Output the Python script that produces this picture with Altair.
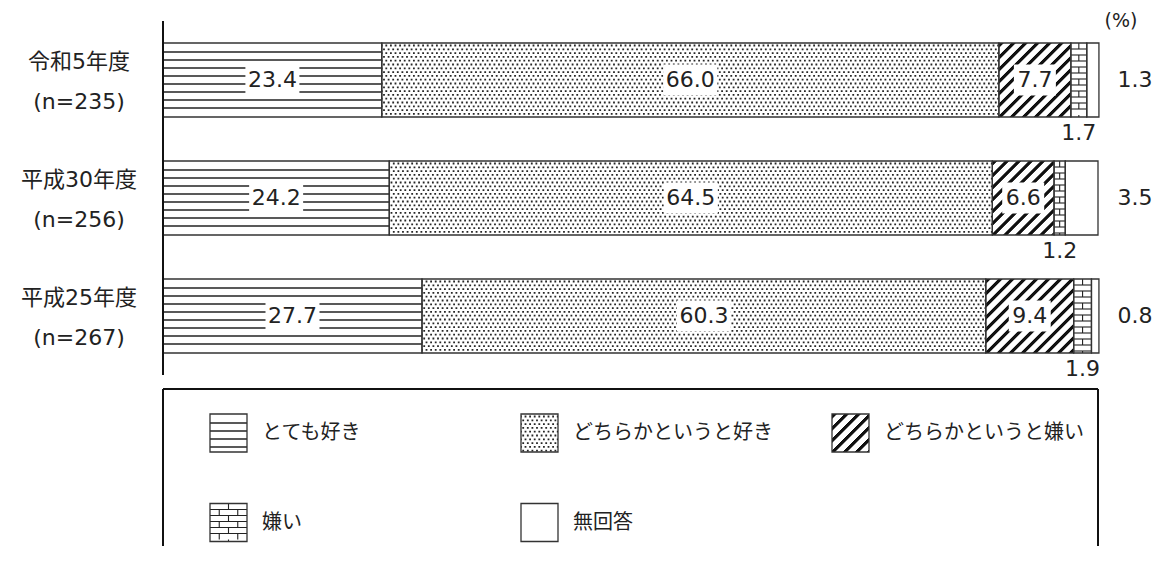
import altair as alt
import pandas as pd

# ---------------- data ----------------
years = ["令和5年度", "平成30年度", "平成25年度"]
sample_sizes = ["(n=235)", "(n=256)", "(n=267)"]
categories = ["とても好き", "どちらかというと好き", "どちらかというと嫌い", "嫌い", "無回答"]
values_r5 = [23.4, 66.0, 7.7, 1.7, 1.3]
values_h30 = [24.2, 64.5, 6.6, 1.2, 3.5]
values_h25 = [27.7, 60.3, 9.4, 1.9, 0.8]
series = [values_r5, values_h30, values_h25]
patterns = ["hlines", "dots", "diag", "brick", "blank"]
unit_label = "(%)"

# ---------------- layout ----------------
W, H = 935, 525
PXX = W / 100.0          # pixels per percent
PXY = 118.0              # pixels per row
Y0 = -0.5
Y1 = Y0 + H / PXY
BAR_HALF = 37.0 / PXY
NUM_FONT = "DejaVu Sans, Noto Sans CJK JP"
JP_FONT = "Noto Sans CJK JP"

xs = alt.Scale(domain=[0, 100], nice=False, zero=False)
ys = alt.Scale(domain=[Y0, Y1], nice=False, zero=False, reverse=True)

# ---------------- rectangles (bars + legend swatches) ----------------
rects = []
for r, vals in enumerate(series):
    cum = 0.0
    for i, v in enumerate(vals):
        rects.append(dict(x=cum, x2=cum + v, y=r - BAR_HALF, y2=r + BAR_HALF,
                          pat=patterns[i], row=r, idx=i, val=v))
        cum += v
bars_df = pd.DataFrame(rects)

LEG_TOP = 2.5 + 14 / PXY
leg_rects, leg_text = [], []
for i, cat in enumerate(categories):
    col, rr = i % 3, i // 3
    left = (47 + col * 311) / PXX
    yc = LEG_TOP + (44 + rr * 89.5) / PXY
    leg_rects.append(dict(x=left, x2=left + 37 / PXX, y=yc - 19 / PXY, y2=yc + 19 / PXY,
                          pat=patterns[i]))
    leg_text.append(dict(x=left + 52 / PXX, y=yc, label=cat))
leg_df = pd.DataFrame(leg_rects)
all_rects = pd.concat([bars_df[["x", "x2", "y", "y2", "pat"]], leg_df], ignore_index=True)

# ---------------- pattern generation ----------------
hl, dots, diag, bh, bv = [], [], [], [], []
for _, r in all_rects.iterrows():
    x0, x1, yt, yb, p = r.x, r.x2, r.y, r.y2, r.pat
    hpx = (yb - yt) * PXY
    wpx = (x1 - x0) * PXX
    if p == "hlines":
        off = 9.0
        while off < hpx - 3:
            hl.append(dict(x=x0, x2=x1, y=yt + off / PXY, off=0))
            off += 8.0
    elif p == "dots":
        off, k = 2.5, 0
        while off < hpx - 1:
            dots.append(dict(x=x0, x2=x1, y=yt + off / PXY, off=(k % 2) * 2.3 + 1))
            off += 3.8
            k += 1
    elif p == "diag":
        off, k = 0.5, 0
        while off < hpx:
            diag.append(dict(x=x0, x2=x1, y=yt + off / PXY, off=k % 12))
            off += 1.0
            k += 1
    elif p == "brick":
        off = 6.0
        while off < hpx - 2:
            bh.append(dict(x=x0, x2=x1, y=yt + off / PXY, off=0))
            off += 6.0
        bv.append(dict(x=(x0 + x1) / 2, y=yt, y2=yb, off=0))
        if wpx >= 30:
            bv.append(dict(x=x0 + (x1 - x0) / 4, y=yt, y2=yb, off=6))
            bv.append(dict(x=x0 + 3 * (x1 - x0) / 4, y=yt, y2=yb, off=6))


def hrules(rows, width, color, dash=None):
    kw = dict(strokeWidth=width, color=color, strokeCap="butt",
              strokeDashOffset={"expr": "datum.off"})
    if dash is not None:
        kw["strokeDash"] = dash
    return alt.Chart(pd.DataFrame(rows)).mark_rule(**kw).encode(
        x=alt.X("x:Q", scale=xs, axis=None), x2="x2:Q",
        y=alt.Y("y:Q", scale=ys, axis=None))


base_fill = alt.Chart(all_rects).mark_rect(fill="white", strokeWidth=0).encode(
    x=alt.X("x:Q", scale=xs, axis=None), x2="x2:Q",
    y=alt.Y("y:Q", scale=ys, axis=None), y2="y2:Q")

hl_layer = hrules(hl, 1.5, "#222222")
dots_layer = hrules(dots, 1.8, "#262626", [1.8, 2.8])
diag_layer = hrules(diag, 1.15, "#111111", [4.5, 7.5])
bh_layer = hrules(bh, 1.1, "#222222")
bv_layer = alt.Chart(pd.DataFrame(bv)).mark_rule(
    strokeWidth=1.1, color="#222222", strokeCap="butt", strokeDash=[6, 6],
    strokeDashOffset={"expr": "datum.off"}).encode(
    x=alt.X("x:Q", scale=xs, axis=None),
    y=alt.Y("y:Q", scale=ys, axis=None), y2="y2:Q")

outline = alt.Chart(all_rects).mark_rect(fillOpacity=0, stroke="#333333", strokeWidth=1.3).encode(
    x=alt.X("x:Q", scale=xs, axis=None), x2="x2:Q",
    y=alt.Y("y:Q", scale=ys, axis=None), y2="y2:Q")

# ---------------- labels ----------------
inner, below, right = [], [], []
for _, r in bars_df.iterrows():
    txt = f"{r.val:.1f}"
    cx = (r.x + r.x2) / 2
    if r.idx <= 2:
        hw = (12 * len(txt) + 6) / 2 / PXX
        inner.append(dict(x=cx, bx=cx - hw, bx2=cx + hw, y=float(r.row),
                          by=r.row - 15.5 / PXY, by2=r.row + 15.5 / PXY, label=txt))
    elif r.idx == 3:
        below.append(dict(x=cx, y=r.y2 + 16 / PXY, label=txt))
    else:
        right.append(dict(x=100 + 37 / PXX, y=float(r.row), label=txt))
inner_df = pd.DataFrame(inner)
lab_df = pd.concat([inner_df[["x", "y", "label"]], pd.DataFrame(below), pd.DataFrame(right)],
                   ignore_index=True)

label_boxes = alt.Chart(inner_df).mark_rect(fill="white", strokeWidth=0).encode(
    x=alt.X("bx:Q", scale=xs, axis=None), x2="bx2:Q",
    y=alt.Y("by:Q", scale=ys, axis=None), y2="by2:Q")

value_text = alt.Chart(lab_df).mark_text(
    font=NUM_FONT, fontSize=22, color="#222222", align="center", baseline="middle").encode(
    x=alt.X("x:Q", scale=xs, axis=None), y=alt.Y("y:Q", scale=ys, axis=None), text="label:N")

ylab_df = pd.DataFrame(dict(x=[-(163 - 79) / PXX] * 3,
                            y=[k - 18 / PXY for k in range(len(years))],
                            label=[f"{a}\n{b}" for a, b in zip(years, sample_sizes)]))
ylab_text = alt.Chart(ylab_df).mark_text(
    font=NUM_FONT, fontSize=22, color="#222222", align="center", baseline="middle",
    lineBreak="\n", lineHeight=40).encode(
    x=alt.X("x:Q", scale=xs, axis=None), y=alt.Y("y:Q", scale=ys, axis=None), text="label:N")

unit_df = pd.DataFrame(dict(x=[100 + 23 / PXX], y=[Y0], label=[unit_label]))
unit_text = alt.Chart(unit_df).mark_text(
    font=NUM_FONT, fontSize=19, color="#222222", align="center", baseline="middle").encode(
    x=alt.X("x:Q", scale=xs, axis=None), y=alt.Y("y:Q", scale=ys, axis=None), text="label:N")

leg_text_layer = alt.Chart(pd.DataFrame(leg_text)).mark_text(
    font=JP_FONT, fontSize=20, color="#222222", align="left", baseline="middle").encode(
    x=alt.X("x:Q", scale=xs, axis=None), y=alt.Y("y:Q", scale=ys, axis=None), text="label:N")

# ---------------- frame lines (axis + legend box) ----------------
frame_df = pd.DataFrame([
    dict(x=0, x2=0, y=Y0, y2=2.5),
    dict(x=0, x2=100, y=LEG_TOP, y2=LEG_TOP),
    dict(x=0, x2=0, y=LEG_TOP, y2=Y1),
    dict(x=100, x2=100, y=LEG_TOP, y2=Y1),
])
frame = alt.Chart(frame_df).mark_rule(color="#111111", strokeWidth=2).encode(
    x=alt.X("x:Q", scale=xs, axis=None), x2="x2:Q",
    y=alt.Y("y:Q", scale=ys, axis=None), y2="y2:Q")

chart = alt.layer(
    base_fill, hl_layer, dots_layer, diag_layer, bh_layer, bv_layer, outline,
    label_boxes, value_text, ylab_text, unit_text, leg_text_layer, frame
).properties(
    width=W, height=H,
    background="white",
    autosize=alt.AutoSizeParams(type="none"),
    padding={"left": 155, "top": 13, "right": 58, "bottom": 0},
).configure_view(stroke=None)

chart.save("out.html", embed_options={"renderer": "svg", "actions": False})
